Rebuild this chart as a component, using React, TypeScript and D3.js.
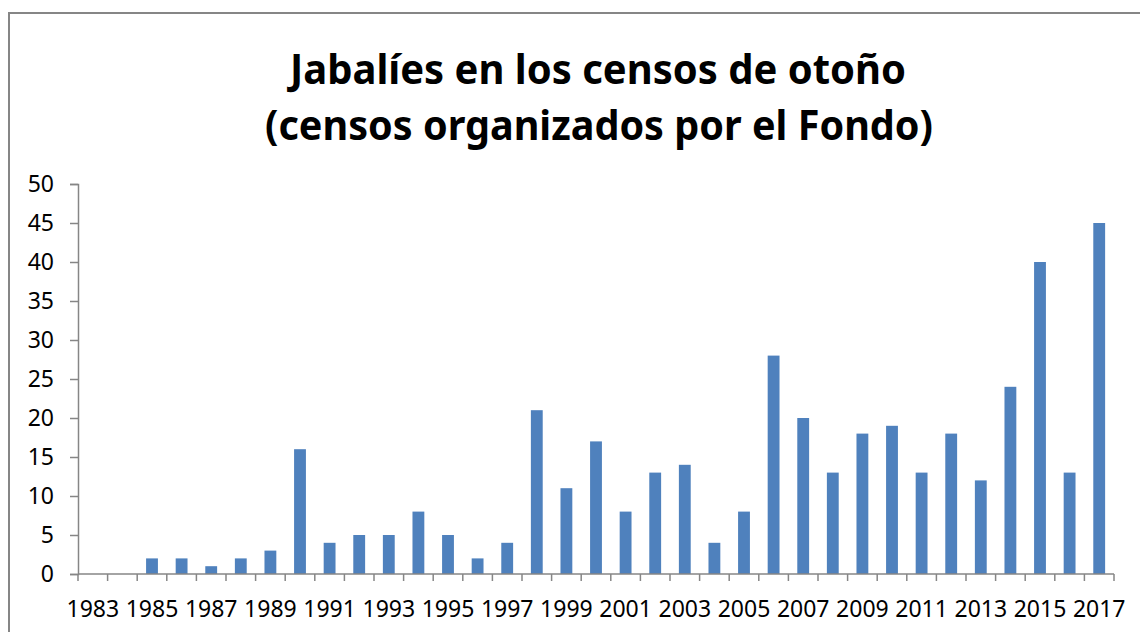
import React, { useEffect, useRef } from 'react';
import * as d3 from 'd3';

// Jabalíes contados en los censos de otoño, 1983-2017
const years: string[] = [
  '1983', '1984', '1985', '1986', '1987', '1988', '1989', '1990', '1991', '1992',
  '1993', '1994', '1995', '1996', '1997', '1998', '1999', '2000', '2001', '2002',
  '2003', '2004', '2005', '2006', '2007', '2008', '2009', '2010', '2011', '2012',
  '2013', '2014', '2015', '2016', '2017',
];
const counts: number[] = [
  0, 0, 2, 2, 1, 2, 3, 16, 4, 5,
  5, 8, 5, 2, 4, 21, 11, 17, 8, 13,
  14, 4, 8, 28, 20, 13, 18, 19, 13, 18,
  12, 24, 40, 13, 45,
];
const yTicks: number[] = [0, 5, 10, 15, 20, 25, 30, 35, 40, 45, 50];
const titleLines: string[] = [
  'Jabalíes en los censos de otoño',
  '(censos organizados por el Fondo)',
];

const WIDTH = 1140;
const HEIGHT = 632;
const FONT = '"Noto Sans", "Open Sans", sans-serif';
const AXIS_COLOR = '#868686';
const BAR_COLOR = '#4f81bd';

export default function App() {
  const svgRef = useRef<SVGSVGElement>(null);

  useEffect(() => {
    const svg = d3.select(svgRef.current);
    svg.selectAll('*').remove();

    const plot = { left: 78, right: 1114, top: 184, bottom: 574 };

    // chart frame (right and bottom edges fall outside the picture)
    svg.append('rect')
      .attr('x', 9)
      .attr('y', 13)
      .attr('width', 1200)
      .attr('height', 700)
      .attr('fill', '#fff')
      .attr('stroke', AXIS_COLOR)
      .attr('stroke-width', 2);

    // title
    const titleWidths = [616, 668];
    const titleBase = [84, 140];
    titleLines.forEach((t, i) => {
      svg.append('text')
        .attr('x', (plot.left + plot.right) / 2 + (i === 0 ? 2 : 3))
        .attr('y', titleBase[i])
        .attr('text-anchor', 'middle')
        .attr('font-family', FONT)
        .attr('font-weight', 700)
        .attr('font-size', 42)
        .attr('textLength', titleWidths[i])
        .attr('lengthAdjust', 'spacingAndGlyphs')
        .attr('fill', '#000')
        .text(t);
    });

    const x = d3.scaleBand<string>()
      .domain(years)
      .range([plot.left, plot.right])
      .padding(0);
    const y = d3.scaleLinear()
      .domain([0, 50])
      .range([plot.bottom, plot.top]);

    const barW = x.bandwidth() * 0.4;

    // bars
    svg.append('g')
      .selectAll('rect')
      .data(years.map((yr, i) => ({ yr, v: counts[i] })))
      .enter().append('rect')
      .attr('x', d => (x(d.yr) as number) + x.bandwidth() / 2 - barW / 2)
      .attr('y', d => y(d.v))
      .attr('width', barW)
      .attr('height', d => plot.bottom - y(d.v))
      .attr('fill', BAR_COLOR);

    // y axis
    const gy = svg.append('g')
      .attr('transform', `translate(${plot.left},0)`)
      .call(d3.axisLeft(y).tickValues(yTicks).tickSize(8).tickPadding(16).tickFormat(d3.format('d')));
    gy.select('.domain').attr('stroke', AXIS_COLOR).attr('stroke-width', 1.5);
    gy.selectAll('.tick line').attr('stroke', AXIS_COLOR).attr('stroke-width', 1.5);
    gy.selectAll('.tick text')
      .attr('font-family', FONT)
      .attr('font-size', 23)
      .attr('fill', '#000');

    // x axis: tick marks at category boundaries, labels every second year
    const gx = svg.append('g');
    gx.append('line')
      .attr('x1', plot.left).attr('x2', plot.right)
      .attr('y1', plot.bottom).attr('y2', plot.bottom)
      .attr('stroke', AXIS_COLOR).attr('stroke-width', 1.5);
    const bounds = years.map(yr => x(yr) as number).concat([plot.right]);
    gx.selectAll('line.tick')
      .data(bounds)
      .enter().append('line')
      .attr('class', 'tick')
      .attr('x1', d => d).attr('x2', d => d)
      .attr('y1', plot.bottom).attr('y2', plot.bottom + 7)
      .attr('stroke', AXIS_COLOR).attr('stroke-width', 1.5);
    gx.selectAll('text')
      .data(years.filter((_, i) => i % 2 === 0))
      .enter().append('text')
      .attr('x', d => (x(d) as number) + x.bandwidth() / 2)
      .attr('y', plot.bottom + 43)
      .attr('text-anchor', 'middle')
      .attr('font-family', FONT)
      .attr('font-size', 23)
      .attr('fill', '#000')
      .text(d => d);
  }, []);

  return (
    <svg
      ref={svgRef}
      width={WIDTH}
      height={HEIGHT}
      style={{ position: 'absolute', left: 0, top: 0, background: '#fff' }}
    />
  );
}
